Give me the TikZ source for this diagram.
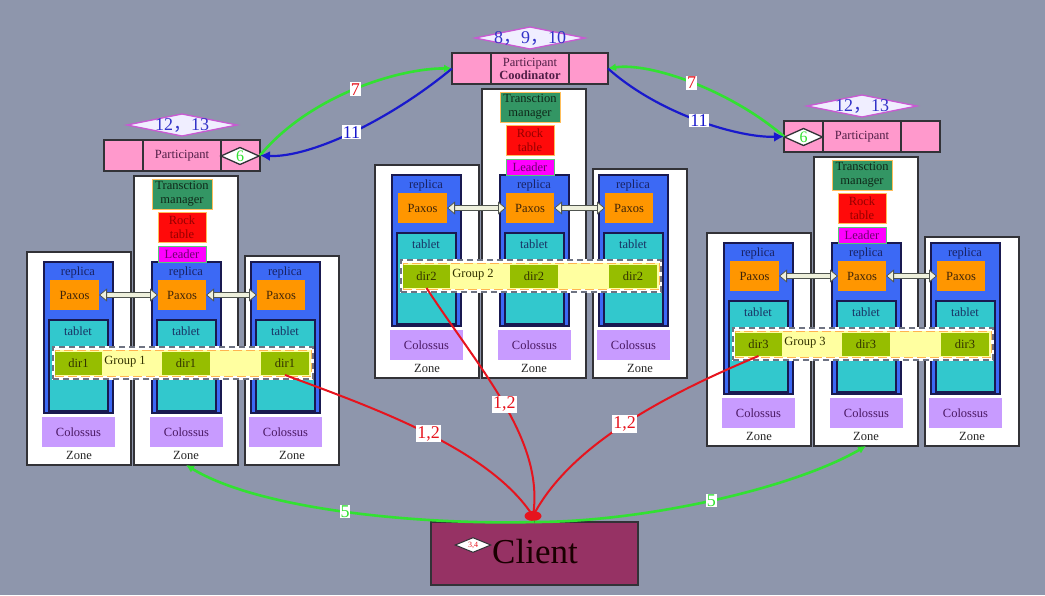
\documentclass[tikz,border=0pt]{standalone}
\usepackage{fontspec}
\setmainfont{Liberation Serif}
\newfontfamily\cjk{Noto Sans CJK SC}
\usetikzlibrary{shapes.geometric,arrows.meta}

\definecolor{bg}{RGB}{142,150,172}
\definecolor{zonedraw}{RGB}{50,50,55}
\definecolor{partfill}{RGB}{255,153,204}
\definecolor{parttext}{RGB}{80,30,70}
\definecolor{diafill}{RGB}{240,238,255}
\definecolor{diadraw}{RGB}{200,90,210}
\definecolor{diatext}{RGB}{50,50,200}
\definecolor{tmfill}{RGB}{51,150,100}
\definecolor{tmdraw}{RGB}{255,190,90}
\definecolor{tmtext}{RGB}{15,40,25}
\definecolor{rockfill}{RGB}{255,10,10}
\definecolor{rocktext}{RGB}{150,0,0}
\definecolor{leadfill}{RGB}{255,0,255}
\definecolor{leaddraw}{RGB}{90,200,120}
\definecolor{leadtext}{RGB}{110,0,110}
\definecolor{repfill}{RGB}{60,105,245}
\definecolor{repdraw}{RGB}{25,25,80}
\definecolor{reptext}{RGB}{25,35,100}
\definecolor{paxfill}{RGB}{255,150,0}
\definecolor{paxtext}{RGB}{60,35,10}
\definecolor{tabfill}{RGB}{50,200,205}
\definecolor{tabtext}{RGB}{25,50,100}
\definecolor{banddraw}{RGB}{110,115,130}
\definecolor{yelfill}{RGB}{255,255,160}
\definecolor{yeldraw}{RGB}{255,180,80}
\definecolor{dirfill}{RGB}{150,190,0}
\definecolor{dirtext}{RGB}{50,50,0}
\definecolor{colfill}{RGB}{200,155,255}
\definecolor{coltext}{RGB}{75,25,100}
\definecolor{cream}{RGB}{238,240,220}
\definecolor{arrdraw}{RGB}{80,85,80}
\definecolor{clientfill}{RGB}{150,50,100}
\definecolor{redc}{RGB}{230,20,30}
\definecolor{greenc}{RGB}{50,225,50}
\definecolor{bluec}{RGB}{25,25,205}

\newcommand\myfs{\fontsize{12.5}{14}\selectfont}
\newcommand\labfs{\fontsize{18}{18}\selectfont}
\newcommand\sixfs{\fontsize{16}{16}\selectfont}

\tikzset{
 box/.style={inner sep=0pt,outer sep=0pt,align=center,font=\myfs},
 txt/.style={inner sep=0pt,outer sep=0pt,font=\myfs},
 zone/.style={fill=white,draw=zonedraw,line width=1.4pt},
 rep/.style={fill=repfill,draw=repdraw,line width=1.4pt},
 pax/.style={fill=paxfill,text=paxtext},
 tab/.style={fill=tabfill,draw=repdraw,line width=1.2pt},
 band/.style={fill=white,draw=banddraw,dash pattern=on 6pt off 4pt,line width=1.5pt,preaction={draw=white,solid,line width=1.5pt}},
 yel/.style={fill=yelfill,draw=yeldraw,dash pattern=on 9pt off 4pt,line width=1pt},
 dirb/.style={fill=dirfill,text=dirtext},
 col/.style={fill=colfill,text=coltext},
 tm/.style={fill=tmfill,draw=tmdraw,line width=1pt,text=tmtext},
 rock/.style={fill=rockfill,draw=tmdraw,line width=1pt,text=rocktext},
 lead/.style={fill=leadfill,draw=leaddraw,line width=1pt,text=leadtext},
 part/.style={fill=partfill,draw=zonedraw,line width=1.3pt,text=parttext},
 ghost/.style={},
 bigdia/.style={diamond,inner sep=0pt,outer sep=0pt,fill=diafill,draw=diadraw,line width=1.3pt,minimum width=110pt,minimum height=22pt},
 smalldia/.style={diamond,inner sep=0pt,outer sep=0pt,fill=white,draw=zonedraw,line width=1.3pt,minimum width=38pt,minimum height=17pt},
 paxo/.style={line width=5.4pt,draw=arrdraw,shorten <=7pt,shorten >=7pt},
 paxi/.style={line width=3.4pt,draw=cream,{Triangle[length=8pt,width=13pt,color=arrdraw,fill=cream,line width=0.8pt]}-{Triangle[length=8pt,width=13pt,color=arrdraw,fill=cream,line width=0.8pt]}},
 lab/.style={fill=white,inner sep=1.2pt,font=\labfs},
 redline/.style={draw=redc,line width=2pt},
 greenline/.style={draw=greenc,line width=2.6pt},
 blueline/.style={draw=bluec,line width=2.2pt},
}

% [style]{name}{x1}{y1}{x2}{y2}{text}
\newcommand\bx[7][]{\node[box,minimum width={(#5-#3)*1pt},minimum height={(#6-#4)*1pt},#1] (#2) at ({(#3+#5)/2},{(#4+#6)/2}) {#7};}

% {id}{dx}{dy}{dir}{group}{diamond text}{participant content}
\newcommand\spgroup[7]{%
\begin{scope}[shift={(#2,#3)}]
 \bx[zone]{g#1-zA}{27}{252}{131}{465}{}
 \bx[zone]{g#1-zB}{134}{176}{238}{465}{}
 \bx[zone]{g#1-zC}{245}{256}{339}{465}{}
 \node[txt,text=black!85] (g#1-zAt) at (79,455) {Zone};
 \node[txt,text=black!85] (g#1-zBt) at (186,455) {Zone};
 \node[txt,text=black!85] (g#1-zCt) at (292,455) {Zone};
 \bx[rep]{g#1-r1}{44}{262}{113}{413}{}
 \bx[rep]{g#1-r2}{152}{262}{221}{413}{}
 \bx[rep]{g#1-r3}{251}{262}{320}{413}{}
 \node[txt,text=reptext] (g#1-r1t) at (78,272) {replica};
 \node[txt,text=reptext] (g#1-r2t) at (186,272) {replica};
 \node[txt,text=reptext] (g#1-r3t) at (285,272) {replica};
 \bx[pax]{g#1-p1}{50}{280}{99}{310}{Paxos}
 \bx[pax]{g#1-p2}{158}{280}{206}{310}{Paxos}
 \bx[pax]{g#1-p3}{257}{280}{305}{310}{Paxos}
 \bx[tab]{g#1-t1}{49}{320}{108}{411}{}
 \bx[tab]{g#1-t2}{157}{320}{216}{411}{}
 \bx[tab]{g#1-t3}{256}{320}{315}{411}{}
 \node[txt,text=tabtext] (g#1-t1t) at (78,331) {tablet};
 \node[txt,text=tabtext] (g#1-t2t) at (186,331) {tablet};
 \node[txt,text=tabtext] (g#1-t3t) at (285,331) {tablet};
 \bx[band]{g#1-band}{53}{347}{313}{379}{}
 \bx[yel]{g#1-yel}{55}{350}{311}{376}{}
 \bx[dirb]{g#1-d1}{55}{352}{102}{375}{#4}
 \bx[dirb]{g#1-d2}{162}{352}{210}{375}{#4}
 \bx[dirb]{g#1-d3}{261}{352}{309}{375}{#4}
 \node[txt,text=dirtext] (g#1-gl) at (125,362) {#5};
 \bx[col]{g#1-c1}{42}{417}{115}{447}{Colossus}
 \bx[col]{g#1-c2}{150}{417}{223}{447}{Colossus}
 \bx[col]{g#1-c3}{249}{417}{322}{447}{Colossus}
 \bx[tm]{g#1-tm}{152}{179}{212}{209}{Transction\\manager}
 \bx[rock]{g#1-rk}{158}{212}{206}{242}{Rock\\table}
 \bx[lead]{g#1-ld}{158}{246}{206}{262}{Leader}
 \draw[paxo] (g#1-p1.east) -- (g#1-p2.west);
 \draw[paxi] (g#1-p1.east) -- (g#1-p2.west);
 \draw[paxo] (g#1-p2.east) -- (g#1-p3.west);
 \draw[paxi] (g#1-p2.east) -- (g#1-p3.west);
 \bx[part]{g#1-pl}{104}{140}{143}{171}{}
 \bx[part]{g#1-pm}{143}{140}{221}{171}{}
 \bx[part]{g#1-pr}{221}{140}{260}{171}{}
 \bx[ghost]{g#1-part}{104}{140}{260}{171}{}
 \node[bigdia] (g#1-dia) at (182,125) {};
 \node[txt,text=diatext,font=\labfs] (g#1-diat) at (182,125.5) {#6};
 #7
\end{scope}}

\begin{document}
\begin{tikzpicture}[x=1pt,y=-1pt]
\useasboundingbox (0,0) rectangle (1045,595);
\fill[bg] (0,0) rectangle (1045,595);

\spgroup{1}{0}{0}{dir1}{Group 1}{12{\cjk ，}13}{%
 \node[txt,text=parttext] (g1-ptext) at (182,156) {Participant};
 \node[smalldia] (g1-six) at (240,156) {};
 \node[txt,text=greenc,font=\sixfs] (g1-sixt) at (240,156.5) {6};}

\spgroup{2}{348}{-87}{dir2}{Group 2}{8{\cjk ，}9{\cjk ，}10}{%
 \node[txt,text=parttext,align=center,font=\fontsize{12.5}{13}\selectfont] (g2-ptext) at (182,156) {Participant\\\textbf{Coodinator}};}

\spgroup{3}{680}{-19}{dir3}{Group 3}{12{\cjk ，}13}{%
 \node[txt,text=parttext] (g3-ptext) at (182,156) {Participant};
 \node[smalldia] (g3-six) at (123.5,156) {};
 \node[txt,text=greenc,font=\sixfs] (g3-sixt) at (123.5,156.5) {6};}

% client
\bx[fill=clientfill,draw=zonedraw,line width=1.3pt]{client}{431}{522}{638}{585}{}
\node[txt,text=black!90!red,font=\fontsize{35}{35}\selectfont] (clientt) at (535,552) {Client};
\node[diamond,inner sep=0pt,fill=white,draw=zonedraw,line width=1pt,minimum width=36pt,minimum height=15pt] (cdia) at (473,545) {};
\node[txt,text=redc,font=\fontsize{8}{8}\selectfont] (cdiat) at (473,545.5) {3,4};
\node[ellipse,fill=redc,inner sep=0pt,minimum width=17pt,minimum height=10pt] (dot) at (533,516) {};

% red 1,2 connectors
\draw[redline] (g1-d3.south) .. controls (380,410) and (490,450) .. (dot.center)
  node[lab,text=redc,pos=0.5] (l12a) {1,2};
\draw[redline] (g2-d1.south) .. controls (480,370) and (545,440) .. (dot.center)
  node[lab,text=redc,pos=0.5] (l12b) {1,2};
\draw[redline] (g3-d1.south) .. controls (665,395) and (570,445) .. (dot.center)
  node[lab,text=redc,pos=0.5] (l12c) {1,2};

% green 5 connectors
\draw[greenline,-{Latex[length=8pt,width=8pt]}] (client.north) .. controls (420,525) and (260,510) .. (g1-zB.south)
  node[lab,text=greenc,pos=0.5,inner sep=0.8pt] (l5a) {5};
\draw[greenline,-{Latex[length=8pt,width=8pt]}] (client.north) .. controls (640,522) and (790,490) .. (g3-zB.south)
  node[lab,text=greenc,pos=0.5,inner sep=0.8pt] (l5b) {5};

% 7 and 11 connectors
\draw[greenline,-{Latex[length=8pt,width=8pt]}] (g1-part.east) .. controls (310,95) and (400,68) .. (g2-part.west)
  node[lab,text=redc,pos=0.5,inner sep=1pt] (l7a) {7};
\draw[blueline,-{Latex[length=10pt,width=10pt]}] (g2-part.west) .. controls (390,120) and (310,158) .. (g1-part.east)
  node[lab,text=bluec,pos=0.5,inner sep=1pt] (l11a) {11};
\draw[greenline,-{Latex[length=8pt,width=8pt]}] (g3-part.west) .. controls (730,90) and (650,62) .. (g2-part.east)
  node[lab,text=redc,pos=0.5,inner sep=1pt] (l7b) {7};
\draw[blueline,-{Latex[length=10pt,width=10pt]}] (g2-part.east) .. controls (660,115) and (740,138) .. (g3-part.west)
  node[lab,text=bluec,pos=0.5,inner sep=1pt] (l11b) {11};
\end{tikzpicture}
\end{document}
